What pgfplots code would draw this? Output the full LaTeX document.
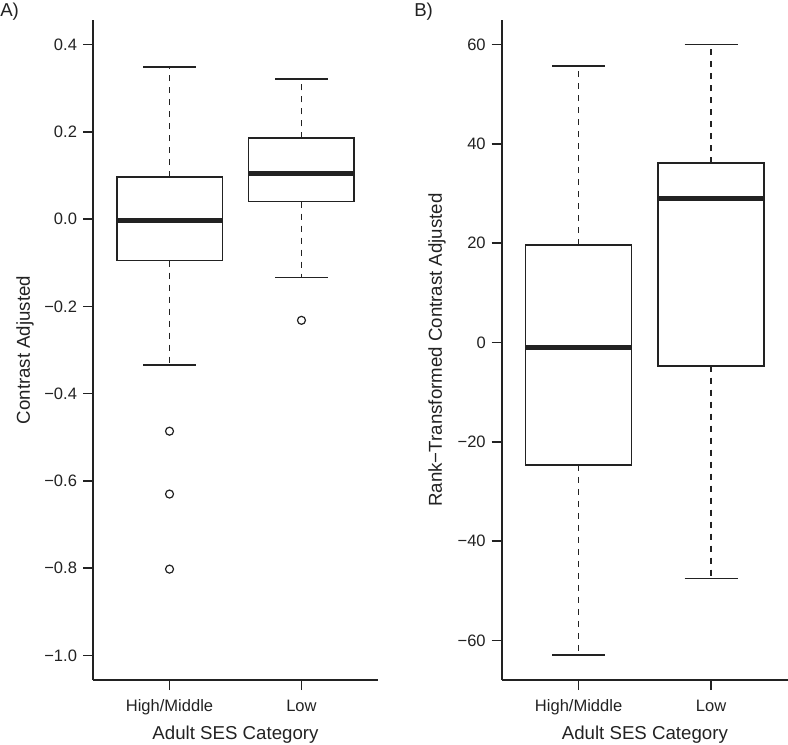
\documentclass[border=0pt]{standalone}
\usepackage{pgfplots}
\pgfplotsset{compat=1.18}
\usepgfplotslibrary{statistics}
\usepackage{fontspec}
\setmainfont{Liberation Sans}
\definecolor{ink}{HTML}{222222}
\pgfplotsset{
  rbox/.style={
    ink, line width=1.2pt, mark=o, mark size=3pt,
    mark options={solid, line width=0.9pt},
    boxplot/draw direction=y,
    boxplot/box extend=0.8,
    boxplot/whisker extend=0.4,
    boxplot/every median/.style={line width=3.6pt},
    boxplot/draw/lower whisker/.code={
      \draw[dash pattern=on 4.8pt off 4.2pt]
        (boxplot box cs:\pgfplotsboxplotvalue{lower quartile},0.5) --
        (boxplot box cs:\pgfplotsboxplotvalue{lower whisker},0.5);
      \draw
        (boxplot whisker cs:\pgfplotsboxplotvalue{lower whisker},0) --
        (boxplot whisker cs:\pgfplotsboxplotvalue{lower whisker},1);
    },
    boxplot/draw/upper whisker/.code={
      \draw[dash pattern=on 4.8pt off 4.2pt]
        (boxplot box cs:\pgfplotsboxplotvalue{upper quartile},0.5) --
        (boxplot box cs:\pgfplotsboxplotvalue{upper whisker},0.5);
      \draw
        (boxplot whisker cs:\pgfplotsboxplotvalue{upper whisker},0) --
        (boxplot whisker cs:\pgfplotsboxplotvalue{upper whisker},1);
    },
  },
  rstyle/.style={
    anchor=south west, scale only axis, height=495pt,
    xmin=0.42, xmax=2.58,
    axis x line*=bottom, axis y line*=left,
    axis line style={line width=1.2pt, ink},
    tick align=outside, major tick length=7.5pt,
    tick style={line width=1.2pt, ink},
    xtick={1,2}, xticklabels={High/Middle,Low},
    tick label style={font=\fontsize{12.4}{14}\selectfont, text=ink},
    yticklabel style={xshift=-1pt},
    xticklabel style={yshift=-3.75pt},
    label style={font=\fontsize{14}{16}\selectfont, text=ink},
    xlabel={Adult SES Category},
    xlabel style={at={(axis description cs:0.5,-0.0833)}, anchor=center},
    clip=false,
  },
}
\begin{document}
\begin{tikzpicture}
\useasboundingbox (0,0) rectangle (591pt,558pt);
\node[anchor=west, inner sep=0pt, font=\fontsize{14}{16}\selectfont, text=ink] at (0pt,549pt) {A)};
\node[anchor=west, inner sep=0pt, font=\fontsize{14}{16}\selectfont, text=ink] at (310.5pt,549pt) {B)};
\begin{axis}[rstyle,
  at={(69.75pt,48pt)}, width=213.75pt,
  ymin=-1.056, ymax=0.456,
  ytick={-1,-0.8,-0.6,-0.4,-0.2,0,0.2,0.4},
  yticklabels={−1.0,−0.8,−0.6,−0.4,−0.2,0.0,0.2,0.4},
  ylabel={Contrast Adjusted},
  ylabel style={at={(axis description cs:-0.2386,0.5)}, anchor=center},
]
\addplot[rbox, boxplot prepared={draw position=1,
  median=-0.003, upper quartile=0.096, lower quartile=-0.095,
  upper whisker=0.348, lower whisker=-0.334}]
  coordinates {(0,-0.486) (0,-0.630) (0,-0.802)};
\addplot[rbox, boxplot prepared={draw position=2,
  median=0.104, upper quartile=0.185, lower quartile=0.040,
  upper whisker=0.321, lower whisker=-0.134}]
  coordinates {(0,-0.232)};
\end{axis}
\begin{axis}[rstyle,
  at={(376.3pt,48pt)}, width=214.7pt,
  ymin=-67.92, ymax=64.92,
  ytick={-60,-40,-20,0,20,40,60},
  yticklabels={−60,−40,−20,0,20,40,60},
  ylabel={Rank−Transformed Contrast Adjusted},
  ylabel style={at={(axis description cs:-0.226,0.5)}, anchor=center},
]
\addplot[rbox, boxplot prepared={draw position=1,
  median=-0.97, upper quartile=19.6, lower quartile=-24.6,
  upper whisker=55.7, lower whisker=-62.9}]
  coordinates {};
\addplot[rbox, boxplot prepared={draw position=2,
  median=29.0, upper quartile=36.1, lower quartile=-4.66,
  upper whisker=60.0, lower whisker=-47.5}]
  coordinates {};
\end{axis}
\end{tikzpicture}
\end{document}
